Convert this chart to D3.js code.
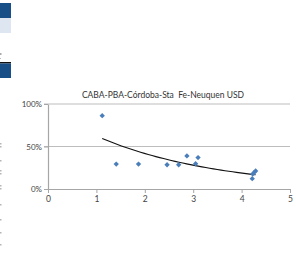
<!DOCTYPE html>
<html>
<head>
<meta charset="utf-8">
<script src="https://cdn.jsdelivr.net/npm/d3@7"></script>
<style>
  body { margin: 0; background: #fff; }
  svg { display: block; font-family: Lato, "DejaVu Sans", sans-serif; }
</style>
</head>
<body>
<div id="chart"></div>
<script>
var w = 296;
var h = 269;
var margin = { top: 104, right: 6, bottom: 80, left: 48 };

// data
var xVals = [1.12, 1.41, 1.87, 2.46, 2.70, 2.87, 3.05, 3.10, 4.22, 4.23, 4.26, 4.29];
var yVals = [0.863, 0.293, 0.293, 0.285, 0.285, 0.389, 0.297, 0.370, 0.121, 0.176, 0.195, 0.213];
var xTicks = [0, 1, 2, 3, 4, 5];
var yTicks = [0, 0.5, 1];
var yTickLabels = ["0%", "50%", "100%"];
var trendA = 0.93;   // exponential trendline y = a * e^(b x)
var trendB = -0.40;
var title = "CABA-PBA-Córdoba-Sta  Fe-Neuquen USD";

var points = xVals.map((x, i) => ({ x: x, y: yVals[i] }));

var xscale = d3.scaleLinear().domain([0, 5]).range([margin.left, w - margin.right]);
var yscale = d3.scaleLinear().domain([0, 1]).range([h - margin.bottom, margin.top]);

var svg = d3.select("#chart")
            .append("svg")
            .attr("width", w)
            .attr("height", h);

// clipped bits of the neighbouring sheet on the left
svg.append("rect").attr("x", 0).attr("y", 3).attr("width", 11).attr("height", 15).attr("fill", "#174f86");
svg.append("rect").attr("x", 0).attr("y", 18).attr("width", 11).attr("height", 15).attr("fill", "#dde6f1");
svg.append("rect").attr("x", 0).attr("y", 53).attr("width", 1.5).attr("height", 2).attr("fill", "#aaa");
svg.append("rect").attr("x", 0).attr("y", 58).attr("width", 1).attr("height", 1).attr("fill", "#bbb");
svg.append("rect").attr("x", 0).attr("y", 62).attr("width", 11).attr("height", 1.5).attr("fill", "#111");
svg.append("rect").attr("x", 0).attr("y", 63.5).attr("width", 11).attr("height", 14.5).attr("fill", "#174f86");
svg.append("g")
   .selectAll("rect")
   .data([143, 146, 160, 170, 173, 185, 188, 204, 219, 232, 244])
   .enter()
   .append("rect")
   .attr("x", 0)
   .attr("y", d => d)
   .attr("width", 1.5)
   .attr("height", 1.5)
   .attr("fill", "#b5b5b5");

// gridlines
svg.append("g")
   .selectAll("line")
   .data(yTicks.filter(d => d > 0))
   .enter()
   .append("line")
   .attr("x1", margin.left - 4)
   .attr("x2", w - margin.right)
   .attr("y1", d => yscale(d))
   .attr("y2", d => yscale(d))
   .attr("stroke", "#bdbdbd")
   .attr("stroke-width", 1.2);

// y-axis
var yAxis = svg.append("g")
   .attr("transform", `translate(${margin.left}, 0)`)
   .call(d3.axisLeft(yscale).tickValues(yTicks).tickFormat((d, i) => yTickLabels[i]).tickSize(4).tickSizeOuter(0));
yAxis.select(".domain").attr("stroke", "#a6a6a6").attr("stroke-width", 1.2);
yAxis.selectAll(".tick line").attr("stroke", "#a6a6a6");
yAxis.selectAll("text").attr("font-size", 8).attr("fill", "#444").attr("x", -6).attr("font-family", "Lato, sans-serif");

// x-axis
var xAxis = svg.append("g")
   .attr("transform", `translate(0, ${h - margin.bottom})`)
   .call(d3.axisBottom(xscale).tickValues(xTicks).tickFormat(d3.format("d")).tickSize(4).tickSizeOuter(0));
xAxis.select(".domain").attr("stroke", "#a6a6a6").attr("stroke-width", 1.2);
xAxis.selectAll(".tick line").attr("stroke", "#a6a6a6");
xAxis.selectAll("text").attr("font-size", 8.5).attr("fill", "#444").attr("y", 7).attr("font-family", "Lato, sans-serif");

// trendline
var xMin = d3.min(xVals), xMax = d3.max(xVals);
var trendPts = d3.range(0, 41).map(i => {
    var x = xMin + (xMax - xMin) * i / 40;
    return [x, trendA * Math.exp(trendB * x)];
});
svg.append("path")
   .datum(trendPts)
   .attr("d", d3.line().x(d => xscale(d[0])).y(d => yscale(d[1])))
   .attr("fill", "none")
   .attr("stroke", "#111")
   .attr("stroke-width", 1.1);

// markers
svg.selectAll("path.pt")
   .data(points)
   .enter()
   .append("path")
   .attr("class", "pt")
   .attr("d", d3.symbol().type(d3.symbolDiamond2).size(18))
   .attr("transform", d => `translate(${xscale(d.x)},${yscale(d.y)})`)
   .attr("fill", "#4a7ebb");

// title
svg.append("text")
   .attr("x", 163)
   .attr("y", 98)
   .attr("text-anchor", "middle")
   .attr("font-size", 8.5)
   .attr("fill", "#333")
   .style("white-space", "pre")
   .text(title);
</script>
</body>
</html>
